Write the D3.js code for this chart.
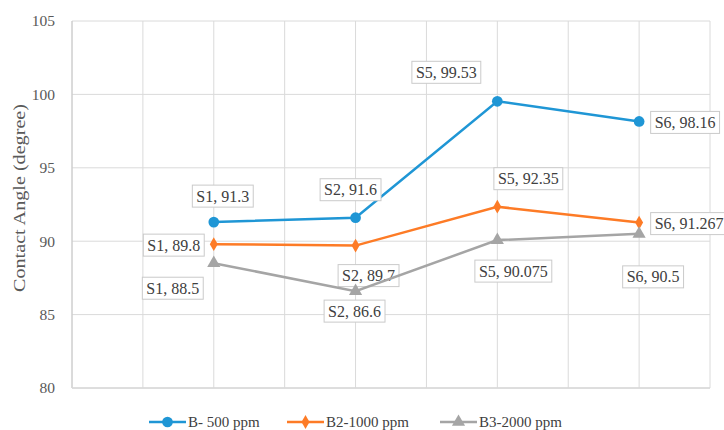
<!DOCTYPE html>
<html>
<head>
<meta charset="utf-8">
<script src="https://cdn.jsdelivr.net/npm/d3@7"></script>
<style>
  body { margin: 0; background: #fff; }
</style>
</head>
<body>
<svg width="724" height="430"></svg>
<script>
// samples along x
var samples = ["S1", "S2", "S5", "S6"];
var samplePos = [1, 2, 3, 4];

var seriesNames = ["B- 500 ppm", "B2-1000 ppm", "B3-2000 ppm"];
var b500  = [91.3, 91.6, 99.53, 98.16];
var b1000 = [89.8, 89.7, 92.35, 91.267];
var b2000 = [88.5, 86.6, 90.075, 90.5];

var yTicks = [80, 85, 90, 95, 100, 105];

// where each data label sits relative to its point (px)
var labelOffsets = [
  [[9, -26], [-5, -28], [-51, -29], [46, 1]],
  [[-40, 1], [13, 30], [31, -28], [50, 1]],
  [[-41, 25], [-1, 20], [16, 31], [14, 43]]
];

var FONT = "'Liberation Serif', 'Times New Roman', Times, 'DejaVu Serif', serif";
var colors = ["#1f96d5", "#fd7b26", "#a5a5a5"];
var shapes = [d3.symbolCircle, d3.symbolDiamond, d3.symbolTriangle];
var shapeSize = [90, 55, 75];

var svg = d3.select("svg"),
    margin = {left: 72, right: 14, top: 21, bottom: 42},
    width = +svg.attr("width"),
    height = +svg.attr("height");

var x = d3.scaleLinear().domain([0, 4.5]).range([margin.left, width - margin.right]);
var y = d3.scaleLinear().domain([80, 105]).range([height - margin.bottom, margin.top]);

var series = [b500, b1000, b2000].map(function(vals, i) {
  return {name: seriesNames[i], i: i, points: vals.map(function(v, j) {
    return {s: samples[j], x: samplePos[j], v: v, off: labelOffsets[i][j]};
  })};
});

// grid
svg.append("g")
  .selectAll("line")
  .data(d3.range(0, 4.51, 0.5))
  .enter().append("line")
    .attr("x1", function(d) { return x(d); })
    .attr("x2", function(d) { return x(d); })
    .attr("y1", y(80))
    .attr("y2", y(105))
    .style("stroke", "#dadada")
    .style("stroke-width", 1);

svg.append("g")
  .selectAll("line")
  .data(yTicks)
  .enter().append("line")
    .attr("x1", x(0))
    .attr("x2", x(4.5))
    .attr("y1", function(d) { return y(d); })
    .attr("y2", function(d) { return y(d); })
    .style("stroke", "#dadada")
    .style("stroke-width", 1);

// axes lines
svg.append("line")
  .attr("x1", x(0)).attr("x2", x(0))
  .attr("y1", y(80)).attr("y2", y(105))
  .style("stroke", "#c8c8c8");
svg.append("line")
  .attr("x1", x(0)).attr("x2", x(4.5))
  .attr("y1", y(80)).attr("y2", y(80))
  .style("stroke", "#d9d9d9").style("stroke-width", 1.5);

var yAxis = svg.append("g")
  .attr("transform", "translate(" + (x(0) - 14) + ",0)")
  .call(d3.axisLeft(y).tickValues(yTicks).tickSize(0));
yAxis.select(".domain").remove();
yAxis.selectAll("text")
  .style("font-family", FONT)
  .style("font-size", "15.5px")
  .style("fill", "#595959");

svg.append("text")
  .attr("transform", "translate(20,198) rotate(-90)")
  .attr("text-anchor", "middle")
  .attr("dy", "0.3em")
  .attr("textLength", 188)
  .attr("lengthAdjust", "spacingAndGlyphs")
  .style("font-family", FONT)
  .style("font-size", "16px")
  .style("fill", "#595959")
  .text("Contact Angle (degree)");

var line = d3.line()
  .x(function(d) { return x(d.x); })
  .y(function(d) { return y(d.v); });

var g = svg.append("g").selectAll("g")
  .data(series)
  .enter().append("g");

g.append("path")
  .attr("d", function(d) { return line(d.points); })
  .style("fill", "none")
  .style("stroke", function(d) { return colors[d.i]; })
  .style("stroke-width", 2.5);

g.each(function(sd) {
  d3.select(this).selectAll("path.m")
    .data(sd.points)
    .enter().append("path")
      .attr("class", "m")
      .attr("transform", function(d) { return "translate(" + x(d.x) + "," + y(d.v) + ")"; })
      .attr("d", d3.symbol().type(shapes[sd.i]).size(shapeSize[sd.i]))
      .style("fill", colors[sd.i]);
});

// data labels
g.each(function(sd) {
  var lab = d3.select(this).selectAll("g.lab")
    .data(sd.points)
    .enter().append("g")
      .attr("class", "lab")
      .attr("transform", function(d) {
        return "translate(" + (x(d.x) + d.off[0]) + "," + (y(d.v) + d.off[1]) + ")";
      });
  lab.append("rect").style("fill", "#fff").style("stroke", "#cacaca").style("stroke-width", 1);
  lab.append("text")
    .attr("text-anchor", "middle")
    .attr("dy", "0.35em")
    .style("font-family", FONT)
    .style("font-size", "16px")
    .style("fill", "#404040")
    .text(function(d) { return d.s + ", " + d.v; });
  lab.each(function() {
    var b = d3.select(this).select("text").node().getBBox();
    d3.select(this).select("rect")
      .attr("x", b.x - 4).attr("y", -11)
      .attr("width", b.width + 8).attr("height", 22);
  });
});

// legend
var legendX = [149, 287, 440];
var leg = svg.append("g").selectAll("g")
  .data(seriesNames)
  .enter().append("g")
    .attr("transform", function(d, i) { return "translate(" + legendX[i] + ",422)"; });
leg.append("line")
  .attr("x1", 0).attr("x2", 37)
  .style("stroke", function(d, i) { return colors[i]; })
  .style("stroke-width", 2.5);
leg.append("path")
  .attr("transform", "translate(18.5,0)")
  .attr("d", function(d, i) { return d3.symbol().type(shapes[i]).size(shapeSize[i])(); })
  .style("fill", function(d, i) { return colors[i]; });
leg.append("text")
  .attr("x", 39)
  .attr("dy", "0.35em")
  .style("font-family", FONT)
  .style("font-size", "15px")
  .style("fill", "#404040")
  .text(function(d) { return d; });
</script>
</body>
</html>
